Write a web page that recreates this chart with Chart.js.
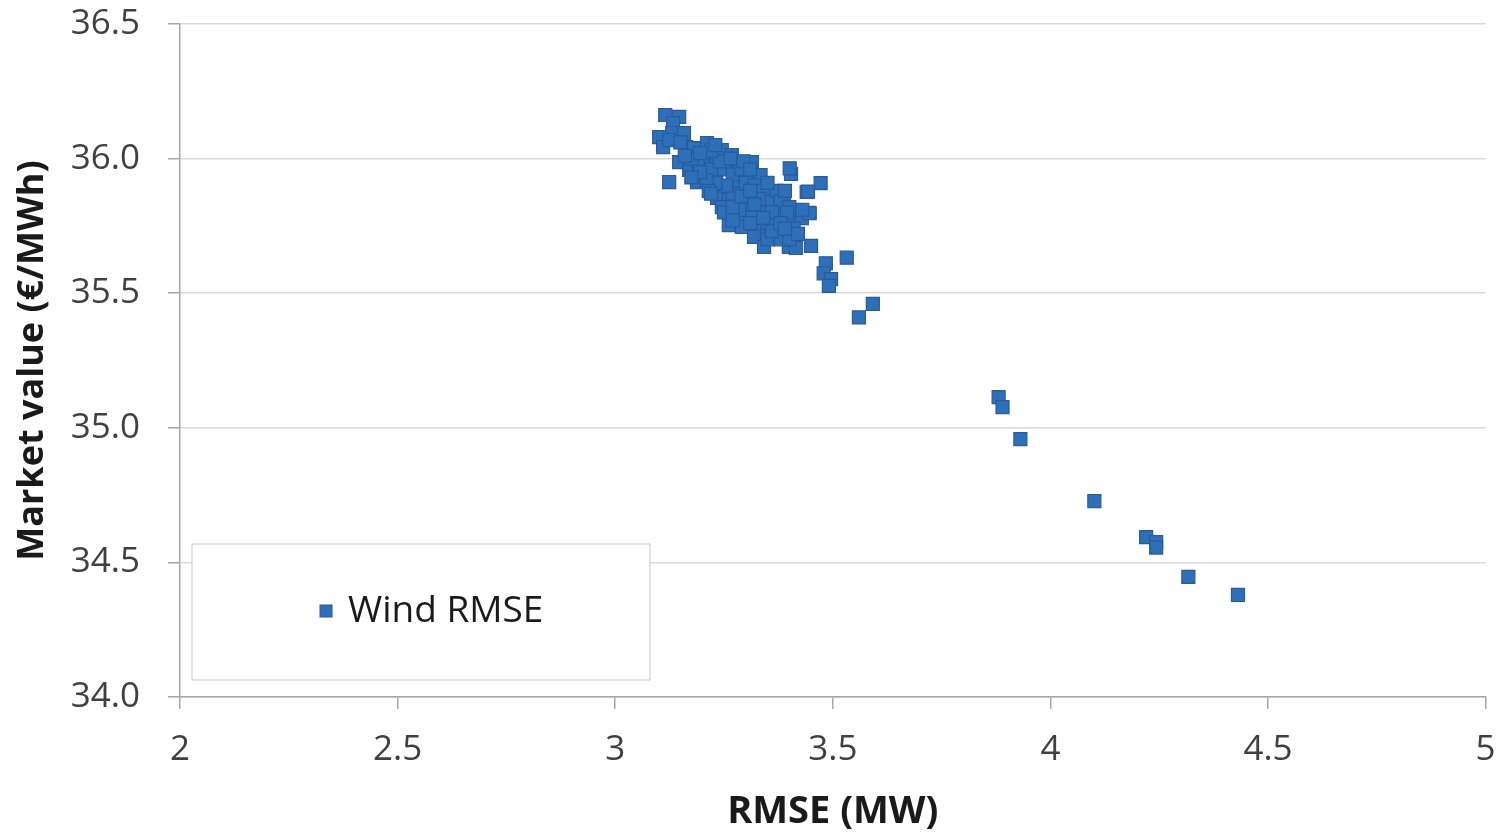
<!DOCTYPE html>
<html>
<head>
<title>Market value vs RMSE</title>
<script src="https://cdn.jsdelivr.net/npm/chart.js@4.4.0/dist/chart.umd.min.js"></script>
<style>
  body { margin: 0; background: #fff; }
  #wrap { width: 1496px; height: 833px; }
</style>
</head>
<body>
<div id="wrap"><canvas id="chart"></canvas></div>
<script>
// RMSE (MW) and market value (EUR/MWh)
rmse = [
  3.115, 3.147, 3.133, 3.101, 3.131, 3.158, 3.110, 3.124, 3.163, 3.181,
  3.211, 3.245, 3.216, 3.268, 3.147, 3.170, 3.200, 3.234, 3.261, 3.284,
  3.314, 3.124, 3.188, 3.232, 3.284, 3.330, 3.404, 3.401, 3.472, 3.440,
  3.245, 3.273, 3.307, 3.234, 3.261, 3.300, 3.326, 3.360, 3.388, 3.245,
  3.284, 3.326, 3.360, 3.383, 3.415, 3.445, 3.278, 3.300, 3.330, 3.261,
  3.291, 3.330, 3.360, 3.399, 3.429, 3.319, 3.342, 3.369, 3.399, 3.394,
  3.415, 3.450, 3.484, 3.532, 3.443, 3.447, 3.479, 3.496, 3.491, 3.592,
  3.560, 3.334, 3.190, 3.205, 3.220, 3.250, 3.270, 3.290, 3.300, 3.320,
  3.340, 3.350, 3.370, 3.380, 3.390, 3.400, 3.410, 3.370, 3.350, 3.340,
  3.310, 3.300, 3.270, 3.255, 3.230, 3.210, 3.195, 3.175, 3.160, 3.150,
  3.175, 3.215, 3.285, 3.310, 3.350, 3.380, 3.400, 3.420, 3.360, 3.395,
  3.430, 3.240, 3.265, 3.295, 3.310, 3.330, 3.220, 3.195, 3.230,
  3.250, 3.270, 3.320, 3.340, 3.360, 3.380, 3.290, 3.310, 3.350, 3.220,
  3.270, 3.390,
  3.881, 3.890, 3.931, 4.101, 4.220, 4.243, 4.243, 4.317, 4.431
];
marketValue = [
  36.162, 36.155, 36.132, 36.080, 36.095, 36.095, 36.043, 36.069, 36.043, 36.039,
  36.058, 36.032, 36.006, 36.013, 35.987, 35.958, 35.976, 35.984, 35.976, 35.987,
  35.987, 35.913, 35.913, 35.939, 35.932, 35.939, 35.943, 35.964, 35.909, 35.876,
  35.891, 35.895, 35.902, 35.854, 35.846, 35.857, 35.865, 35.865, 35.854, 35.820,
  35.828, 35.817, 35.820, 35.790, 35.809, 35.798, 35.790, 35.772, 35.779, 35.753,
  35.746, 35.742, 35.746, 35.761, 35.779, 35.709, 35.672, 35.709, 35.672, 35.716,
  35.668, 35.676, 35.611, 35.632, 35.877, 35.797, 35.574, 35.552, 35.527, 35.460,
  35.410, 35.939, 35.990, 35.940, 35.960, 35.960, 35.940, 35.960, 35.910, 35.900,
  35.880, 35.840, 35.880, 35.840, 35.880, 35.820, 35.740, 35.780, 35.760, 35.800,
  35.800, 35.830, 35.870, 35.900, 35.910, 35.920, 35.950, 36.000, 36.010, 36.060,
  35.930, 35.880, 35.810, 35.760, 35.700, 35.700, 35.700, 35.720, 35.800, 35.800,
  35.810, 35.990, 36.000, 35.990, 35.960, 35.850, 36.030, 36.020, 36.050,
  35.800, 35.820, 35.830, 35.780, 35.730, 35.760, 35.860, 35.880, 35.910, 35.870,
  35.770, 35.740,
  35.114, 35.077, 34.958, 34.728, 34.594, 34.575, 34.555, 34.446, 34.379
];
seriesName = 'Wind RMSE';

points = rmse.map(function (v, i) { return { x: v, y: marketValue[i] }; });

tickFont = { family: 'Open Sans', size: 35 };
fillBlue = '#2e6fba';
edgeBlue = '#2a5a98';

// legend drawn as a box inside the plot, bottom left
insideLegend = {
  id: 'insideLegend',
  afterDraw: function (c) {
    var a = c.chartArea, ctx = c.ctx;
    var x0 = a.left + 12, y0 = a.bottom - 153, w = 458, h = 136;
    ctx.save();
    ctx.fillStyle = '#fff';
    ctx.fillRect(x0, y0, w, h);
    ctx.strokeStyle = '#d9d9d9';
    ctx.lineWidth = 1.5;
    ctx.strokeRect(x0, y0, w, h);
    var cy = y0 + h / 2 - 1;
    ctx.fillStyle = fillBlue;
    ctx.fillRect(x0 + 128, cy - 6, 12, 12);
    ctx.strokeStyle = edgeBlue;
    ctx.lineWidth = 1;
    ctx.strokeRect(x0 + 128, cy - 6, 12, 12);
    ctx.fillStyle = '#1a1a1a';
    ctx.font = '37px "Open Sans"';
    ctx.textBaseline = 'middle';
    ctx.fillText(c.data.datasets[0].label, x0 + 156, cy);
    ctx.restore();
  }
};

new Chart(document.getElementById('chart'), {
  type: 'scatter',
  data: {
    datasets: [{
      label: seriesName,
      data: points,
      pointStyle: 'rect',
      pointRadius: 9.2,
      pointHoverRadius: 9.2,
      backgroundColor: fillBlue,
      borderColor: edgeBlue,
      borderWidth: 1.2
    }]
  },
  options: {
    responsive: true,
    maintainAspectRatio: false,
    animation: false,
    events: [],
    layout: { padding: { top: 24, right: 7, left: 0, bottom: 0 } },
    plugins: {
      legend: { display: false },
      tooltip: { enabled: false }
    },
    scales: {
      x: {
        type: 'linear',
        min: 2, max: 5,
        afterFit: function (s) { s.height = 136; s.paddingLeft = 0; s.paddingRight = 0; },
        ticks: { stepSize: 0.5, color: '#404040', font: tickFont, padding: 20, maxRotation: 0,
          callback: function (v) { return String(v); } },
        grid: { drawOnChartArea: false, drawTicks: true, tickLength: 12, color: '#a6a6a6', lineWidth: 1.5 },
        border: { color: '#a6a6a6', width: 1.5 },
        title: { display: true, text: 'RMSE (MW)', color: '#1a1a1a',
          font: { family: 'Open Sans', size: 38, weight: 'bold', lineHeight: 1.1 }, padding: { top: 0, bottom: 0 } }
      },
      y: {
        min: 34, max: 36.5,
        afterFit: function (s) { s.width = 180; s.paddingTop = 0; s.paddingBottom = 0; },
        ticks: { stepSize: 0.5, color: '#404040', font: tickFont, padding: 28,
          callback: function (v) { return v.toFixed(1); } },
        grid: { color: '#d9d9d9', lineWidth: 1.5, tickLength: 12, tickColor: '#a6a6a6' },
        border: { color: '#a6a6a6', width: 1.5 },
        title: { display: true, text: 'Market value (€/MWh)', color: '#1a1a1a',
          font: { family: 'Open Sans', size: 36, weight: 'bold', lineHeight: 1.2 }, padding: { top: 11, bottom: 0 } }
      }
    }
  },
  plugins: [insideLegend]
});
</script>
</body>
</html>
